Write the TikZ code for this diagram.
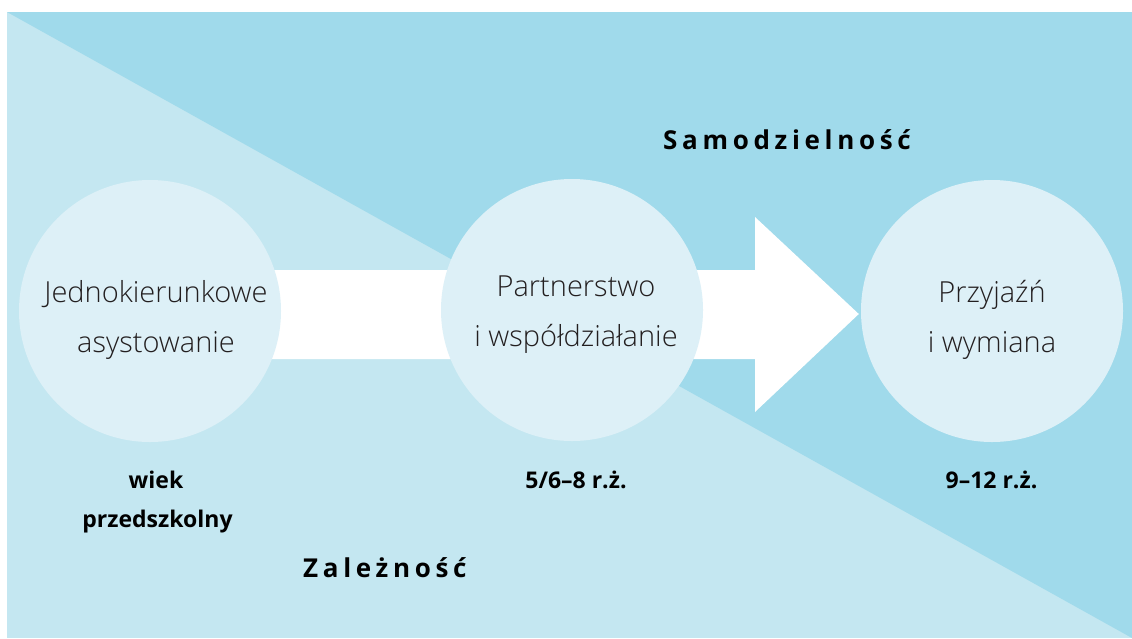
\documentclass[tikz,border=0pt]{standalone}
\usepackage{fontspec}
\setmainfont{Open Sans}
\newfontfamily\lightfont{Open Sans}[UprightFont={* Light}]
\newfontfamily\spacedfont{Open Sans}[LetterSpace=18]
\usetikzlibrary{calc}
\pgfdeclarelayer{bg}
\pgfsetlayers{bg,main}
\definecolor{lightbg}{RGB}{196,231,241}
\definecolor{darkbg}{RGB}{160,218,235}
\definecolor{discblue}{RGB}{221,240,247}
\definecolor{textgray}{RGB}{35,31,32}
\begin{document}
\begin{tikzpicture}[x=1pt,y=-1pt,
  disc/.style={circle, fill=discblue, minimum size=262pt, inner sep=0pt},
  stagetext/.style={font=\lightfont\fontsize{29}{35}\selectfont, text=textgray, anchor=base, inner sep=0pt},
  agetext/.style={font=\bfseries\fontsize{23}{28}\selectfont, text=black, anchor=base, inner sep=0pt},
  headtext/.style={font=\spacedfont\bfseries\fontsize{26}{30}\selectfont, text=black, anchor=base west, inner sep=0pt}]
\useasboundingbox (0,0) rectangle (1132,638);

% the three stages
\node[disc] (c1) at (150,311) {};
\node[disc] (c2) at (572,310) {};
\node[disc] (c3) at (992,311) {};

\begin{pgfonlayer}{bg}
  % background: dependence (lower left) and independence (upper right)
  \fill[white] (0,0) rectangle (1132,638);
  \fill[lightbg] (7,12) rectangle (1132,638);
  \fill[darkbg] (7,12) -- (1132,12) -- (1132,638) -- cycle;
  % large block arrow running behind the circles
  \coordinate (tip) at ($(c3.west)+(-2,3)$);
  \fill[white] (c1.center |- 0,270) -- (755,270) -- (755,217) -- (tip)
    -- (755,412) -- (755,359) -- (c1.center |- 0,359) -- cycle;
\end{pgfonlayer}

% stage names
\node[stagetext] (t1a) at (156,302) {Jednokierunkowe};
\node[stagetext] (t1b) at (156,352) {asystowanie};
\node[stagetext] (t2a) at (576,296) {Partnerstwo};
\node[stagetext] (t2b) at (576,346) {i współdziałanie};
\node[stagetext] (t3a) at (992,302) {Przyjaźń};
\node[stagetext] (t3b) at (992,352) {i wymiana};

% ages
\node[agetext] (a1a) at (156,488) {wiek};
\node[agetext] (a1b) at (157.5,527) {przedszkolny};
\node[agetext] (a2) at (576,488) {5/6–8 r.ż.};
\node[agetext] (a3) at (991.5,488) {9–12 r.ż.};

% region headings
\node[headtext] (h1) at (663,149) {Samodzielność};
\node[headtext] (h2) at (303,577) {Zależność};
\end{tikzpicture}
\end{document}
